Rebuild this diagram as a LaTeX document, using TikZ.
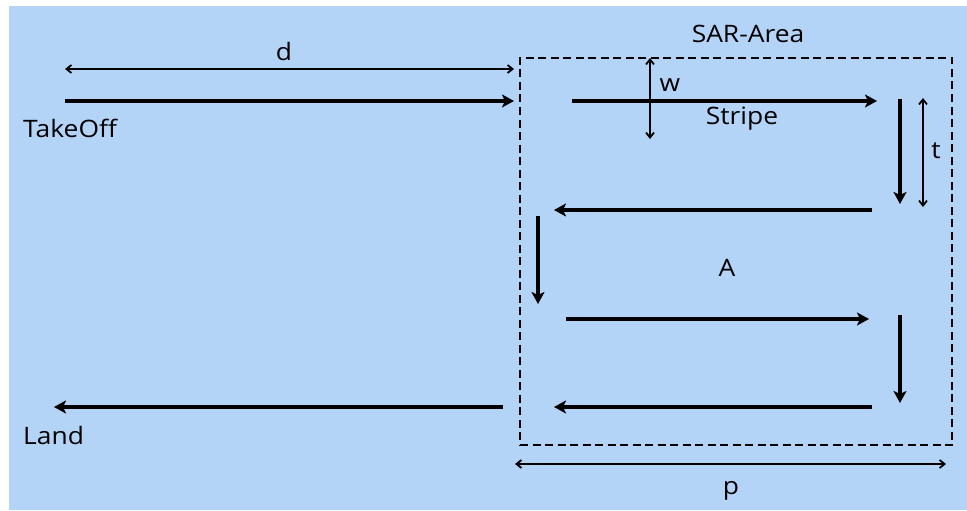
\documentclass[tikz,border=0pt]{standalone}
\usepackage{fontspec}
\setmainfont{Open Sans}[FakeStretch=1.1]
\usetikzlibrary{arrows.meta}
\definecolor{bgblue}{RGB}{180,212,247}
\begin{document}
\begin{tikzpicture}[x=1pt,y=-1pt,
  thick arrow/.style={line width=4.6pt,-{Stealth[length=12pt,width=13pt,inset=3pt]}},
  dim/.style={line width=1.8pt,{Straight Barb[length=5pt,width=8pt]}-{Straight Barb[length=5pt,width=8pt]}},
  lbl/.style={font=\fontsize{24}{28}\selectfont,inner sep=0pt}]
\useasboundingbox (0,0) rectangle (967,511);
\fill[white] (0,0) rectangle (967,511);
\fill[bgblue] (9,6) rectangle (967,510);
% SAR area
\node[draw,line width=2pt,dash pattern=on 8pt off 4.5pt,minimum width=432pt,minimum height=387pt,inner sep=0pt] (area) at (736,251.5) {};
\node[lbl] (sar) at (748,34) {SAR-Area};
% coordinates
\coordinate (d1) at (65,69); \coordinate (d2) at (514,69);
\coordinate (to1) at (65,101); \coordinate (to2) at (514,101);
\coordinate (s1) at (572,101); \coordinate (s2) at (877,101);
\coordinate (r1a) at (900,99); \coordinate (r1b) at (900,204);
\coordinate (l1a) at (872,210); \coordinate (l1b) at (554,210);
\coordinate (dla) at (538,216); \coordinate (dlb) at (538,304);
\coordinate (r2a) at (566,319); \coordinate (r2b) at (869,319);
\coordinate (r3a) at (900,315); \coordinate (r3b) at (900,403);
\coordinate (l2a) at (872,407); \coordinate (l2b) at (554,407);
\coordinate (la) at (503,407); \coordinate (lb) at (54,407);
\coordinate (w1) at (650,58); \coordinate (w2) at (650,139);
\coordinate (t1) at (923,98); \coordinate (t2) at (923,207);
\coordinate (p1) at (515,464); \coordinate (p2) at (946,464);
% labels
\node[lbl] (dl) at (284,52) {d};
\node[lbl,anchor=west] (tol) at (23,128) {TakeOff};
\node[lbl] (wl) at (670,85) {w};
\node[lbl] (stl) at (742,119) {Stripe};
\node[lbl] (tl) at (936,151) {t};
\node[lbl] (al) at (727,268) {A};
\node[lbl,anchor=west] (landl) at (23,435) {Land};
\node[lbl] (pl) at (731,491) {p};
% dimension arrows
\draw[dim] (d1) -- (d2);
\draw[dim] (w1) -- (w2);
\draw[dim] (t1) -- (t2);
\draw[dim] (p1) -- (p2);
% flight path
\draw[thick arrow] (to1) -- (to2);
\draw[thick arrow] (s1) -- (s2);
\draw[thick arrow] (r1a) -- (r1b);
\draw[thick arrow] (l1a) -- (l1b);
\draw[thick arrow] (dla) -- (dlb);
\draw[thick arrow] (r2a) -- (r2b);
\draw[thick arrow] (r3a) -- (r3b);
\draw[thick arrow] (l2a) -- (l2b);
\draw[thick arrow] (la) -- (lb);
\end{tikzpicture}
\end{document}
